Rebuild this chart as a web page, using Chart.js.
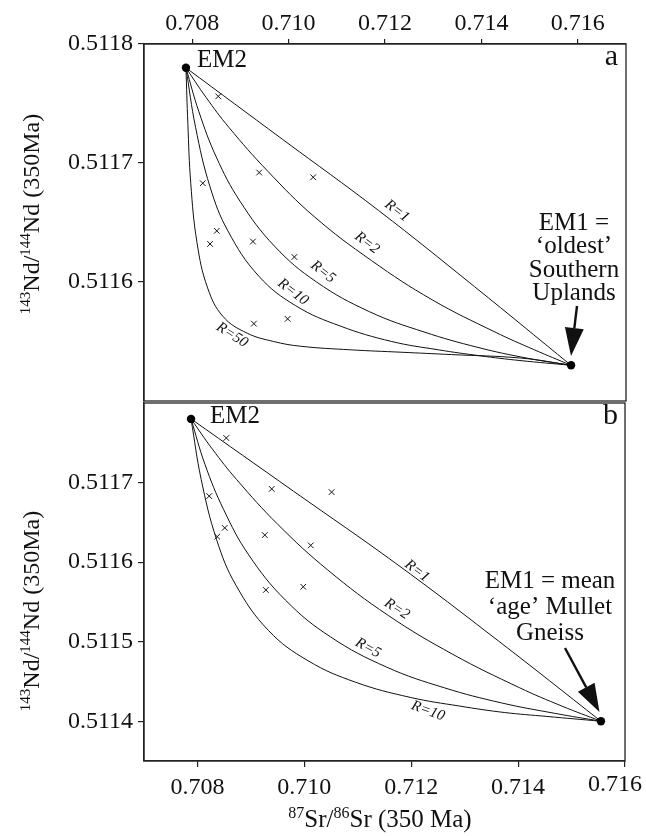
<!DOCTYPE html>
<html>
<head>
<meta charset="utf-8">
<script src="https://cdn.jsdelivr.net/npm/chart.js@4.4.1/dist/chart.umd.min.js"></script>
<style>
  html, body { margin: 0; padding: 0; background: #fff; }
  #wrap { position: relative; width: 646px; height: 836px; }
  canvas { position: absolute; left: 0; }
  #chart-a { top: 0; }
  #chart-b { top: 402px; }
</style>
</head>
<body>
<div id="wrap">
  <canvas id="chart-a" width="646" height="402"></canvas>
  <canvas id="chart-b" width="646" height="434"></canvas>
</div>
<script>
// tick labels
const xTicks = [0.708, 0.710, 0.712, 0.714, 0.716];
const yTicksA = [0.5116, 0.5117, 0.5118];
const yTicksB = [0.5114, 0.5115, 0.5116, 0.5117];

// samples (same in both panels)
const sampleSr = [0.70854, 0.70939, 0.71051, 0.70822, 0.70851, 0.70837, 0.70926, 0.71012, 0.70928, 0.70998];
const sampleNd = [0.511756, 0.511692, 0.511688, 0.511683, 0.511643, 0.511632, 0.511634, 0.511621, 0.511565, 0.511569];

// end members EM2, EM1
const endSrA = [0.70787, 0.71586];
const endNdA = [0.51178, 0.51153];
const endSrB = [0.70788, 0.71555];
const endNdB = [0.51178, 0.51140];

// mixing curves, panel a
const ratiosA = [1, 2, 5, 10, 50];
const mixA1 = [[0.70787,0.51178],[0.70987,0.51172],[0.71187,0.51166],[0.71386,0.511596],[0.71586,0.51153]];
const mixA2 = [[0.70787,0.51178],[0.70829,0.511755],[0.70876,0.51173],[0.70957,0.511693],[0.71053,0.511655],[0.71172,0.511618],[0.71298,0.511585],[0.71428,0.511558],[0.71510,0.511543],[0.71586,0.51153]];
const mixA5 = [[0.70787,0.51178],[0.70814,0.511743],[0.70850,0.511705],[0.70899,0.511668],[0.70971,0.51163],[0.71058,0.5116],[0.71168,0.511575],[0.71281,0.511558],[0.71393,0.511545],[0.71495,0.511536],[0.71586,0.51153]];
const mixA10 = [[0.70787,0.51178],[0.70807,0.51173],[0.70837,0.51168],[0.70874,0.511643],[0.70938,0.511605],[0.71015,0.51158],[0.71107,0.511563],[0.71214,0.51155],[0.71311,0.511543],[0.71397,0.511538],[0.71480,0.511534],[0.71586,0.51153]];
const mixA50 = [[0.70787,0.51178],[0.70791,0.511733],[0.70797,0.511683],[0.70810,0.511633],[0.70832,0.511595],[0.70864,0.511571],[0.70914,0.511557],[0.70969,0.51155],[0.71025,0.511546],[0.71129,0.511543],[0.71233,0.511541],[0.71338,0.511539],[0.71484,0.511536],[0.71586,0.51153]];

// mixing curves, panel b
const ratiosB = [1, 2, 5, 10];
const mixB1 = [[0.70788,0.51178],[0.70980,0.511689],[0.71172,0.511598],[0.71363,0.511501],[0.71555,0.5114]];
const mixB2 = [[0.70788,0.51178],[0.70828,0.511742],[0.70873,0.511704],[0.70951,0.511647],[0.71044,0.51159],[0.71157,0.511533],[0.71278,0.511484],[0.71403,0.511442],[0.71482,0.511419],[0.71555,0.5114]];
const mixB5 = [[0.70788,0.51178],[0.70814,0.511723],[0.70849,0.511666],[0.70896,0.511609],[0.70965,0.511552],[0.71049,0.511506],[0.71154,0.511468],[0.71262,0.511442],[0.71369,0.511423],[0.71468,0.51141],[0.71555,0.5114]];
const mixB10 = [[0.70788,0.51178],[0.70807,0.511704],[0.70836,0.511628],[0.70872,0.511571],[0.70933,0.511514],[0.71007,0.511476],[0.71096,0.511449],[0.71198,0.51143],[0.71291,0.511419],[0.71374,0.511411],[0.71454,0.511406],[0.71555,0.5114]];

const SERIF = '"Liberation Serif", "Times New Roman", Times, serif';
const INK = '#111';

Chart.defaults.font.family = SERIF;
Chart.defaults.font.size = 24;
Chart.defaults.color = INK;

function curve(pts) {
  return {
    data: pts.map(p => ({ x: p[0], y: p[1] })),
    showLine: true, pointRadius: 0, borderColor: INK, borderWidth: 1,
    tension: 0.4, fill: false
  };
}

function pointsOf(xs, ys) {
  return xs.map((x, i) => ({ x: x, y: ys[i] }));
}

// text with superscripts, parts = [[text, isSup], ...]
function drawRich(ctx, parts, x, y, size) {
  const sup = Math.round(size * 0.62);
  let w = 0;
  parts.forEach(p => { ctx.font = (p[1] ? sup : size) + 'px ' + SERIF; w += ctx.measureText(p[0]).width; });
  let cx = x - w / 2;
  ctx.textAlign = 'left';
  ctx.textBaseline = 'alphabetic';
  parts.forEach(p => {
    ctx.font = (p[1] ? sup : size) + 'px ' + SERIF;
    ctx.fillText(p[0], cx, p[1] ? y - size * 0.36 : y);
    cx += ctx.measureText(p[0]).width;
  });
}

function arrow(ctx, a) {
  const [x1, y1, x2, y2] = a;
  const len = Math.hypot(x2 - x1, y2 - y1);
  const ux = (x2 - x1) / len, uy = (y2 - y1) / len;
  const hl = 28, hw = 9.5;
  const bx = x2 - ux * hl, by = y2 - uy * hl;
  ctx.strokeStyle = INK; ctx.fillStyle = INK; ctx.lineWidth = 2.4;
  ctx.beginPath(); ctx.moveTo(x1, y1); ctx.lineTo(bx, by); ctx.stroke();
  ctx.beginPath();
  ctx.moveTo(x2, y2);
  ctx.lineTo(bx - uy * hw, by + ux * hw);
  ctx.lineTo(bx + uy * hw, by - ux * hw);
  ctx.closePath(); ctx.fill();
}

const notesPlugin = {
  id: 'notes',
  afterDraw(chart, args, opts) {
    const ctx = chart.ctx;
    const a = chart.chartArea;
    ctx.save();
    // frame
    ctx.strokeStyle = '#222'; ctx.lineWidth = 1.3;
    ctx.strokeRect(a.left, a.top, a.right - a.left, a.bottom - a.top);
    ctx.fillStyle = INK;
    (opts.texts || []).forEach(t => {
      ctx.font = (t.size || 25) + 'px ' + SERIF;
      ctx.textAlign = t.align || 'center';
      ctx.textBaseline = 'alphabetic';
      ctx.fillText(t.t, t.x, t.y);
    });
    (opts.rLabels || []).forEach(r => {
      ctx.save();
      ctx.translate(r[1], r[2]);
      ctx.rotate(r[3] * Math.PI / 180);
      ctx.font = 'italic 15px ' + SERIF;
      ctx.textAlign = 'center';
      ctx.textBaseline = 'middle';
      ctx.fillText(r[0], 0, 0);
      ctx.restore();
    });
    if (opts.arrow) arrow(ctx, opts.arrow);
    ctx.fillStyle = INK;
    // last x tick label sits at the frame edge: keep it inside the page
    if (opts.edgeTick) {
      const v = xTicks[xTicks.length - 1];
      const txt = v.toFixed(3);
      ctx.font = '24px ' + SERIF;
      const w = ctx.measureText(txt).width;
      const px = Math.min(chart.scales.x.getPixelForValue(v), chart.width - 4 - w / 2);
      ctx.textAlign = 'center';
      ctx.textBaseline = 'middle';
      ctx.fillText(txt, px, a.bottom + opts.edgeTick);
    }
    if (opts.yTitle) {
      ctx.save();
      ctx.translate(opts.yTitle.x, opts.yTitle.y);
      ctx.rotate(-Math.PI / 2);
      drawRich(ctx, [['143', 1], ['Nd/', 0], ['144', 1], ['Nd (350Ma)', 0]], 0, 0, 24);
      ctx.restore();
    }
    if (opts.xTitle) {
      drawRich(ctx, [['87', 1], ['Sr/', 0], ['86', 1], ['Sr (350 Ma)', 0]], opts.xTitle.x, opts.xTitle.y, 25);
    }
    ctx.restore();
  }
};

function axisLook(tickLen) {
  return {
    grid: { drawOnChartArea: false, drawTicks: true, tickLength: tickLen, color: '#222', lineWidth: 1.2 },
    border: { display: true, color: '#222', width: 1.3 }
  };
}

function noPad(s) {
  s.paddingTop = 0; s.paddingBottom = 0; s.paddingLeft = 0; s.paddingRight = 0;
}

function makeChart(id, cfg) {
  const samples = {
    data: pointsOf(sampleSr, sampleNd), showLine: false,
    pointStyle: 'crossRot', pointRadius: 4, pointBorderWidth: 1,
    borderColor: INK, backgroundColor: INK
  };
  const ends = {
    data: pointsOf(cfg.endSr, cfg.endNd), showLine: false,
    pointStyle: 'circle', pointRadius: 4.2, pointBorderWidth: 0,
    borderColor: '#000', backgroundColor: '#000'
  };
  const lastX = xTicks[xTicks.length - 1];
  return new Chart(document.getElementById(id).getContext('2d'), {
    type: 'scatter',
    data: { datasets: [ends, samples].concat(cfg.curves.map(curve)) },
    options: {
      responsive: false,
      animation: false,
      layout: { padding: cfg.padding, autoPadding: false },
      plugins: { legend: { display: false }, tooltip: { enabled: false }, notes: cfg.notes },
      scales: {
        x: Object.assign(axisLook(cfg.xTickLen), {
          type: 'linear', position: cfg.xPos, min: 0.707, max: cfg.xMax,
          afterBuildTicks: s => { s.ticks = xTicks.map(v => ({ value: v })); },
          afterFit: s => { s.height = cfg.xHeight; noPad(s); },
          ticks: {
            padding: cfg.xPad, maxRotation: 0,
            callback: v => (cfg.notes.edgeTick && v === lastX) ? '' : v.toFixed(3)
          }
        }),
        y: Object.assign(axisLook(6), {
          type: 'linear', min: cfg.yMin, max: 0.5118,
          afterBuildTicks: s => { s.ticks = cfg.yTicks.map(v => ({ value: v })); },
          afterFit: s => { s.width = 144; noPad(s); },
          ticks: { padding: 5, callback: v => v.toFixed(4) }
        })
      }
    },
    plugins: [notesPlugin]
  });
}

makeChart('chart-a', {
  endSr: endSrA, endNd: endNdA,
  curves: [mixA1, mixA2, mixA5, mixA10, mixA50],
  padding: { top: 0, left: 0, right: 20, bottom: 1 },
  xPos: 'top', xMax: 0.717, xHeight: 44, xTickLen: 5, xPad: 1,
  yMin: 0.5115, yTicks: yTicksA,
  notes: {
    texts: [
      { t: 'EM2', x: 197, y: 67, align: 'left' },
      { t: 'a', x: 618, y: 65, align: 'right', size: 30 },
      { t: 'EM1 =', x: 574, y: 230 },
      { t: '\u2018oldest\u2019', x: 574, y: 253 },
      { t: 'Southern', x: 574, y: 277 },
      { t: 'Uplands', x: 574, y: 300 }
    ],
    rLabels: [
      ['R=' + ratiosA[0], 397, 211, 37],
      ['R=' + ratiosA[1], 367, 243, 37],
      ['R=' + ratiosA[2], 323, 272, 38],
      ['R=' + ratiosA[3], 293, 292, 37],
      ['R=' + ratiosA[4], 232, 335, 33]
    ],
    arrow: [577, 306, 571, 356],
    yTitle: { x: 39, y: 214 }
  }
});

makeChart('chart-b', {
  endSr: endSrB, endNd: endNdB,
  curves: [mixB1, mixB2, mixB5, mixB10],
  padding: { top: 1, left: 0, right: 21, bottom: 0 },
  xPos: 'bottom', xMax: 0.716, xHeight: 75, xTickLen: 6, xPad: 6,
  yMin: 0.51135, yTicks: yTicksB,
  notes: {
    texts: [
      { t: 'EM2', x: 210, y: 21, align: 'left' },
      { t: 'b', x: 618, y: 22, align: 'right', size: 30 },
      { t: 'EM1 = mean', x: 550, y: 186 },
      { t: '\u2018age\u2019 Mullet', x: 550, y: 212 },
      { t: 'Gneiss', x: 550, y: 238 }
    ],
    rLabels: [
      ['R=' + ratiosB[0], 417, 169, 37],
      ['R=' + ratiosB[1], 397, 207, 33],
      ['R=' + ratiosB[2], 368, 246, 29],
      ['R=' + ratiosB[3], 428, 309, 20]
    ],
    arrow: [565, 246, 599.5, 310],
    edgeTick: 24,
    yTitle: { x: 39, y: 209 },
    xTitle: { x: 380, y: 425 }
  }
});
</script>
</body>
</html>
